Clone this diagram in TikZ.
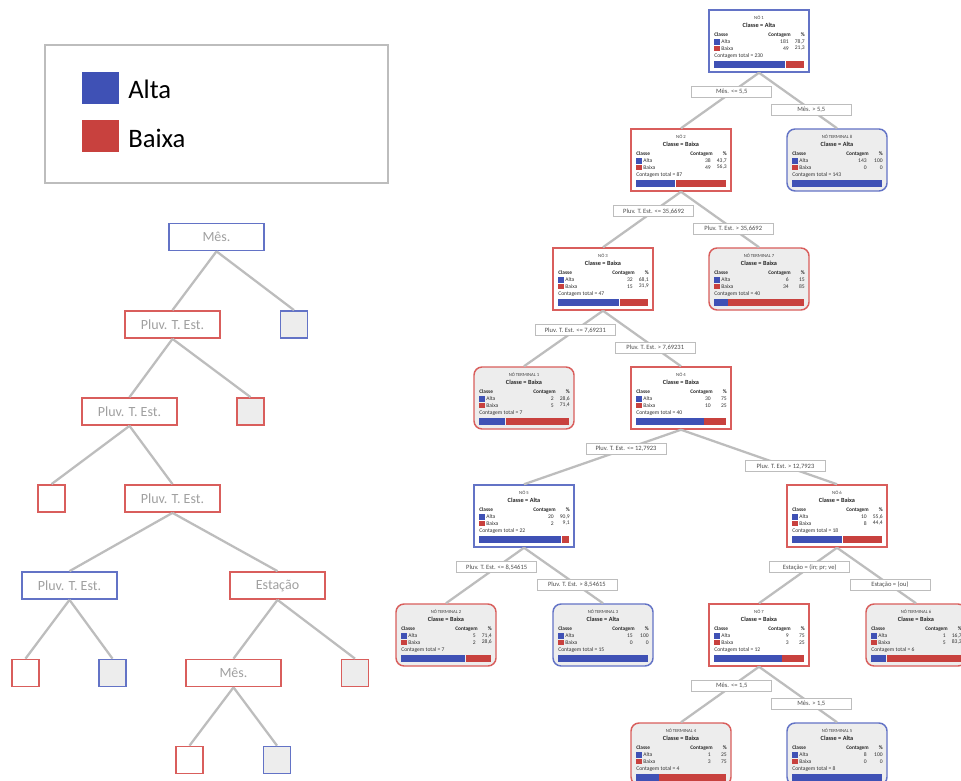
\documentclass[tikz,border=0pt]{standalone}
\usepackage{fontspec}
\setmainfont{Carlito}
\definecolor{cblue}{HTML}{3F51B5}
\definecolor{cred}{HTML}{C8413E}
\definecolor{bblue}{HTML}{6373C6}
\definecolor{bred}{HTML}{D95E5C}
\definecolor{cgray}{HTML}{BDBDBD}
\definecolor{tgray}{HTML}{EDEDED}
\definecolor{ltext}{HTML}{A0A0A0}
\newcommand\dc{,}
\def\px{0.75pt}
\begin{document}
\begin{tikzpicture}[x=0.75pt,y=-0.75pt,
  conn/.style={draw=cgray,line width=1.7pt},
  intbox/.style={rectangle,fill=white,line width=1.1pt,minimum width=100*\px,minimum height=62*\px,inner sep=0pt},
  termbox/.style={rectangle,rounded corners=6pt,fill=tgray,line width=1.1pt,minimum width=100*\px,minimum height=62*\px,inner sep=0pt},
  ttl/.style={inner sep=0pt,text=black!75,font=\fontsize{3.5}{4}\selectfont},
  cls/.style={inner sep=0pt,text=black!85,font=\bfseries\fontsize{4.7}{5}\selectfont},
  tab/.style={inner sep=0pt,text=black!80,font=\fontsize{4.2}{4.5}\selectfont},
  tabh/.style={inner sep=0pt,text=black!85,font=\bfseries\fontsize{4.0}{4.5}\selectfont},
  elabel/.style={draw=cgray,line width=0.6pt,fill=white,inner sep=0pt,minimum width=80*\px,minimum height=11*\px,text=black!70,font=\fontsize{4.9}{5}\selectfont},
  lbox/.style={rectangle,fill=white,line width=1.3pt,minimum width=95*\px,minimum height=27*\px,inner sep=0pt,text=ltext,font=\fontsize{10.5}{12}\selectfont},
  lleaf/.style={rectangle,line width=1.3pt,minimum width=27*\px,minimum height=27*\px,inner sep=0pt}
]
\useasboundingbox (0,0) rectangle (961,781);
\fill[white] (0,0) rectangle (961,781);

% ---------- legend ----------
\node[draw=cgray,line width=1.1pt,minimum width=343*\px,minimum height=138*\px,inner sep=0pt] (legend) at (216.5,114) {};
\node[fill=cblue,minimum width=37*\px,minimum height=32*\px,inner sep=0pt] (legA) at (100.5,88) {};
\node[fill=cred,minimum width=37*\px,minimum height=32*\px,inner sep=0pt] (legB) at (100.5,136) {};
\node[anchor=west,inner sep=0pt,font=\fontsize{20}{22}\selectfont] (legAt) at (128,89) {Alta};
\node[anchor=west,inner sep=0pt,font=\fontsize{20}{22}\selectfont] (legBt) at (128,138) {Baixa};

% ---------- left schematic tree ----------
\node[lbox,draw=bblue] (L1) at (216.5,237) {Mês.};
\node[lbox,draw=bred] (L2) at (172.5,324.5) {Pluv. T. Est.};
\node[lleaf,draw=bblue,fill=tgray] (LA) at (294,324.5) {};
\node[lbox,draw=bred] (L3) at (129.5,411.5) {Pluv. T. Est.};
\node[lleaf,draw=bred,fill=tgray] (LB) at (250.5,411.5) {};
\node[lleaf,draw=bred,fill=white] (LC) at (51.5,498.5) {};
\node[lbox,draw=bred] (L4) at (172.5,498.5) {Pluv. T. Est.};
\node[lbox,draw=bblue] (L5) at (69.5,585.5) {Pluv. T. Est.};
\node[lbox,draw=bred] (L6) at (277.5,585.5) {Estação};
\node[lleaf,draw=bred,fill=white] (LD) at (25.5,673) {};
\node[lleaf,draw=bblue,fill=tgray] (LE) at (112.5,673) {};
\node[lbox,draw=bred] (L7) at (233.5,673) {Mês.};
\node[lleaf,draw=bred,fill=tgray] (LF) at (355,673) {};
\node[lleaf,draw=bred,fill=white] (LG) at (189.5,760) {};
\node[lleaf,draw=bblue,fill=tgray] (LH) at (277,760) {};
\foreach \p/\c in {L1/L2,L1/LA,L2/L3,L2/LB,L3/LC,L3/L4,L4/L5,L4/L6,L5/LD,L5/LE,L6/L7,L6/LF,L7/LG,L7/LH}
  \draw[conn] (\p.south) -- (\c.north);

% ---------- right decision tree ----------
\foreach \nm/\x/\y/\kind/\col/\ttl/\cls/\an/\ap/\bn/\bp/\tot in {
  n1/709/10/intbox/bblue/NÓ 1/Alta/181/78\dc7/49/21\dc3/230,
  n2/631/129/intbox/bred/NÓ 2/Baixa/38/43\dc7/49/56\dc3/87,
  t8/787/129/termbox/bblue/NÓ TERMINAL 8/Alta/143/100/0/0/143,
  n3/553/248/intbox/bred/NÓ 3/Baixa/32/68\dc1/15/31\dc9/47,
  t7/709/248/termbox/bred/NÓ TERMINAL 7/Baixa/6/15/34/85/40,
  t1/474/367/termbox/bred/NÓ TERMINAL 1/Baixa/2/28\dc6/5/71\dc4/7,
  n4/631/367/intbox/bred/NÓ 4/Baixa/30/75/10/25/40,
  n5/474/485/intbox/bblue/NÓ 5/Alta/20/90\dc9/2/9\dc1/22,
  n6/787/485/intbox/bred/NÓ 6/Baixa/10/55\dc6/8/44\dc4/18,
  t2/396/604/termbox/bred/NÓ TERMINAL 2/Baixa/5/71\dc4/2/28\dc6/7,
  t3/553/604/termbox/bblue/NÓ TERMINAL 3/Alta/15/100/0/0/15,
  n7/709/604/intbox/bred/NÓ 7/Baixa/9/75/3/25/12,
  t6/866/604/termbox/bred/NÓ TERMINAL 6/Baixa/1/16\dc7/5/83\dc3/6,
  t4/631/723/termbox/bred/NÓ TERMINAL 4/Baixa/1/25/3/75/4,
  t5/787/723/termbox/bblue/NÓ TERMINAL 5/Alta/8/100/0/0/8}{
  \node[\kind,draw=\col] (\nm) at (\x+50,\y+31) {};
  \node[ttl] at (\x+50,\y+8) {\ttl};
  \node[cls] at (\x+50,\y+15.5) {Classe = \cls};
  \node[tabh,anchor=west] at (\x+5,\y+25) {Classe};
  \node[tabh,anchor=east] at (\x+82,\y+25) {Contagem};
  \node[tabh,anchor=east] at (\x+96,\y+25) {\%};
  \fill[cblue] (\x+5,\y+29.3) rectangle (\x+10.5,\y+34.8);
  \fill[cred] (\x+5,\y+35.6) rectangle (\x+10.5,\y+41.1);
  \node[tab,anchor=west] at (\x+12,\y+32) {Alta};
  \node[tab,anchor=west] at (\x+12,\y+38.3) {Baixa};
  \node[tab,anchor=east] at (\x+80,\y+32) {\an};
  \node[tab,anchor=east] at (\x+96,\y+32) {\ap};
  \node[tab,anchor=east] at (\x+80,\y+38.3) {\bn};
  \node[tab,anchor=east] at (\x+96,\y+38.3) {\bp};
  \node[tab,anchor=west] at (\x+5,\y+46.5) {Contagem total = \tot};
  \pgfmathsetmacro\bx{\x+5+90*\an/\tot}
  \fill[cblue] (\x+5,\y+51) rectangle (\bx,\y+58);
  \pgfmathtruncatemacro\hasred{\bn>0}
  \ifnum\hasred=1 \fill[cred] (\bx+0.8,\y+51) rectangle (\x+95,\y+58);\fi
}
\foreach \p/\c/\ps/\lab in {
  n1/n2/0.35/Mês. <= 5\dc5, n1/t8/0.67/Mês. > 5\dc5,
  n2/n3/0.35/Pluv. T. Est. <= 35\dc6692, n2/t7/0.67/Pluv. T. Est. > 35\dc6692,
  n3/t1/0.35/Pluv. T. Est. <= 7\dc69231, n3/n4/0.67/Pluv. T. Est. > 7\dc69231,
  n4/n5/0.35/Pluv. T. Est. <= 12\dc7923, n4/n6/0.67/Pluv. T. Est. > 12\dc7923,
  n5/t2/0.35/Pluv. T. Est. <= 8\dc54615, n5/t3/0.67/Pluv. T. Est. > 8\dc54615,
  n6/n7/0.35/Estação = (in; pr; ve), n6/t6/0.67/Estação = (ou),
  n7/t4/0.35/Mês. <= 1\dc5, n7/t5/0.67/Mês. > 1\dc5}
  \draw[conn] (\p.south) -- node[elabel,pos=\ps] (lab\c) {\lab} (\c.north);
\end{tikzpicture}
\end{document}
